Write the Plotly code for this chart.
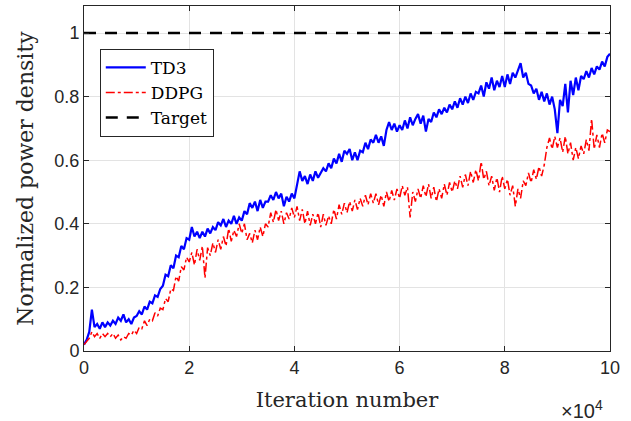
import plotly.graph_objects as go

# Iteration number (x10^4), sampled every 0.05
x_iter = [round(i * 0.05, 2) for i in range(201)]

td3 = [
    0.02, 0.035, 0.06, 0.13, 0.075, 0.085, 0.07, 0.09, 0.075, 0.09,
    0.08, 0.095, 0.085, 0.105, 0.095, 0.115, 0.09, 0.10, 0.085, 0.105,
    0.11, 0.125, 0.115, 0.14, 0.13, 0.155, 0.15, 0.175, 0.17, 0.195,
    0.205, 0.24, 0.235, 0.27, 0.26, 0.30, 0.295, 0.33, 0.32, 0.355,
    0.35, 0.39, 0.36, 0.375, 0.355, 0.375, 0.36, 0.385, 0.37, 0.39,
    0.38, 0.405, 0.395, 0.415, 0.39, 0.41, 0.40, 0.425, 0.40, 0.42,
    0.41, 0.44, 0.43, 0.465, 0.45, 0.47, 0.44, 0.475, 0.45, 0.47,
    0.47, 0.49, 0.475, 0.50, 0.48, 0.495, 0.455, 0.485, 0.47, 0.495,
    0.48, 0.52, 0.565, 0.535, 0.55, 0.525, 0.555, 0.535, 0.565, 0.545,
    0.56, 0.575, 0.565, 0.59, 0.575, 0.605, 0.59, 0.62, 0.595, 0.63,
    0.62, 0.635, 0.60, 0.625, 0.60, 0.63, 0.625, 0.655, 0.635, 0.665,
    0.655, 0.68, 0.655, 0.675, 0.645, 0.695, 0.72, 0.695, 0.715, 0.69,
    0.71, 0.695, 0.725, 0.70, 0.735, 0.71, 0.73, 0.745, 0.715, 0.74,
    0.69, 0.73, 0.72, 0.75, 0.735, 0.76, 0.745, 0.765, 0.75, 0.775,
    0.76, 0.785, 0.765, 0.795, 0.775, 0.80, 0.78, 0.81, 0.79, 0.815,
    0.81, 0.835, 0.80, 0.845, 0.825, 0.86, 0.82, 0.85, 0.83, 0.865,
    0.83, 0.87, 0.84, 0.875, 0.86, 0.885, 0.905, 0.86, 0.875, 0.84,
    0.835, 0.81, 0.825, 0.79, 0.815, 0.785, 0.81, 0.775, 0.80, 0.76,
    0.685, 0.79, 0.77, 0.84, 0.75, 0.85, 0.805, 0.86, 0.82, 0.865,
    0.855, 0.88, 0.86, 0.89, 0.87, 0.895, 0.885, 0.91, 0.895, 0.925,
    0.935,
]

ddpg = [
    0.02, 0.03, 0.04, 0.06, 0.045, 0.055, 0.04, 0.055, 0.045, 0.055,
    0.045, 0.055, 0.04, 0.05, 0.035, 0.045, 0.04, 0.055, 0.05, 0.065,
    0.055, 0.075, 0.07, 0.095, 0.08, 0.10, 0.095, 0.12, 0.11, 0.135,
    0.13, 0.165, 0.155, 0.195, 0.19, 0.235, 0.22, 0.265, 0.255, 0.295,
    0.28, 0.31, 0.27, 0.32, 0.285, 0.33, 0.23, 0.325, 0.30, 0.34,
    0.31, 0.35, 0.32, 0.36, 0.33, 0.385, 0.345, 0.38, 0.36, 0.40,
    0.37, 0.40, 0.35, 0.37, 0.34, 0.38, 0.35, 0.39, 0.36, 0.40,
    0.39, 0.435, 0.405, 0.445, 0.41, 0.44, 0.40, 0.435, 0.415, 0.45,
    0.42, 0.455, 0.41, 0.445, 0.40, 0.44, 0.395, 0.43, 0.40, 0.435,
    0.39, 0.43, 0.395, 0.425, 0.40, 0.445, 0.415, 0.46, 0.43, 0.465,
    0.435, 0.47, 0.44, 0.475, 0.445, 0.48, 0.455, 0.49, 0.46, 0.495,
    0.465, 0.495, 0.46, 0.49, 0.455, 0.50, 0.47, 0.505, 0.475, 0.51,
    0.48, 0.52, 0.49, 0.515, 0.42, 0.50, 0.47, 0.51, 0.48, 0.52,
    0.485, 0.525, 0.48, 0.515, 0.47, 0.51, 0.48, 0.525, 0.49, 0.53,
    0.50, 0.535, 0.51, 0.55, 0.515, 0.555, 0.52, 0.565, 0.53, 0.57,
    0.535, 0.595, 0.54, 0.565, 0.52, 0.55, 0.505, 0.545, 0.50, 0.55,
    0.51, 0.54, 0.49, 0.52, 0.455, 0.51, 0.48, 0.535, 0.52, 0.56,
    0.53, 0.57, 0.54, 0.58, 0.55, 0.585, 0.64, 0.67, 0.635, 0.675,
    0.64, 0.67, 0.625, 0.675, 0.62, 0.655, 0.60, 0.64, 0.605, 0.645,
    0.62, 0.665, 0.63, 0.73, 0.635, 0.68, 0.64, 0.685, 0.655, 0.695,
    0.69,
]

target_x = [0, 10]
target_y = [1, 1]

x_ticks = [0, 2, 4, 6, 8, 10]
y_ticks = [0, 0.2, 0.4, 0.6, 0.8, 1]
y_tick_labels = ["0", "0.2", "0.4", "0.6", "0.8", "1"]

axis_color = "#262626"
sans = "Liberation Sans"
serif = "DejaVu Serif"

fig = go.Figure()
fig.add_trace(go.Scatter(x=x_iter, y=td3, mode="lines", name="TD3",
                         line=dict(color="#0000ff", width=2.2)))
fig.add_trace(go.Scatter(x=x_iter, y=ddpg, mode="lines", name="DDPG",
                         line=dict(color="#ff0000", width=1.5, dash="dashdot")))
fig.add_trace(go.Scatter(x=target_x, y=target_y, mode="lines", name="Target",
                         line=dict(color="#000000", width=2.6, dash="12px,9px")))

axis_common = dict(
    showline=True, linecolor=axis_color, linewidth=1, mirror="ticks",
    ticks="inside", ticklen=5, tickcolor=axis_color, tickwidth=1,
    showgrid=True, gridcolor="#e3e3e3", gridwidth=1, zeroline=False,
    tickfont=dict(family=sans, size=18, color=axis_color),
)

fig.update_xaxes(range=[0, 10], tickvals=x_ticks,
                 title=dict(text="Iteration number",
                            font=dict(family=serif, size=21, color=axis_color),
                            standoff=15),
                 **axis_common)
fig.update_yaxes(range=[0, 1.085], tickvals=y_ticks, ticktext=y_tick_labels,
                 title=dict(text="Normalized power density",
                            font=dict(family=serif, size=22, color=axis_color),
                            standoff=14),
                 **axis_common)

fig.add_annotation(text="×10<sup>4</sup>", xref="paper", yref="paper",
                   x=0.99, y=-0.17, xanchor="right", yanchor="middle",
                   showarrow=False,
                   font=dict(family=sans, size=20, color=axis_color))

fig.update_layout(
    width=631, height=421,
    margin=dict(l=84, r=21, t=6, b=70),
    paper_bgcolor="white", plot_bgcolor="white",
    showlegend=True,
    legend=dict(x=0.03, y=0.876, xanchor="left", yanchor="top",
                bgcolor="white", bordercolor=axis_color, borderwidth=1,
                font=dict(family=serif, size=17, color="#000000"),
                itemwidth=40),
)

fig.write_html("out.html")
